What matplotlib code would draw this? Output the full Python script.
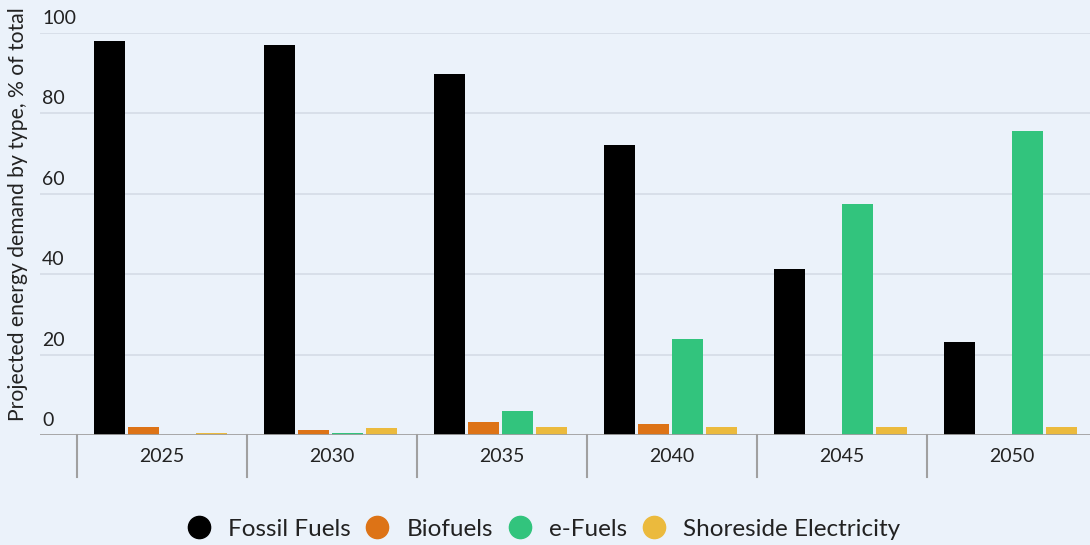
import matplotlib
matplotlib.use("Agg")
import matplotlib.pyplot as plt
from matplotlib.lines import Line2D
import matplotlib.transforms as mtransforms
import numpy as np

years = ["2025", "2030", "2035", "2040", "2045", "2050"]
series_names = ["Fossil Fuels", "Biofuels", "e-Fuels", "Shoreside Electricity"]
fossil = [98.0, 97.0, 89.8, 72.1, 41.3, 23.1]
biofuels = [2.0, 1.2, 3.2, 2.7, 0.0, 0.0]
efuels = [0.0, 0.5, 6.0, 23.9, 57.5, 75.6]
shoreside = [0.4, 1.8, 2.0, 2.0, 2.0, 2.0]
colors = ["#000000", "#DD7316", "#32C47D", "#EBBA3D"]
yticks = [0, 20, 40, 60, 80, 100]

bg = "#EBF2FA"
plt.rcParams['font.family'] = ['Lato', 'DejaVu Sans']

W, H = 1090, 545
fig = plt.figure(figsize=(W / 100, H / 100), dpi=100, facecolor=bg)
x0, x1 = 40, 1090
ybot, ytop = 435, 33
ax = fig.add_axes([x0 / W, (H - ybot) / H, (x1 - x0) / W, (ybot - ytop) / H])
ax.set_facecolor(bg)

unit = 170.0
left = -0.5 - (77 - x0) / unit
right = left + (x1 - x0) / unit
ax.set_xlim(left, right)
ax.set_ylim(0, 100)

x = np.arange(len(years))
data = [fossil, biofuels, efuels, shoreside]
step = 0.2
bw = 31 / unit
for i, (vals, c) in enumerate(zip(data, colors)):
    ax.bar(x + (i - 1.5) * step - 1.5 / unit, vals, width=bw, color=c, zorder=3, linewidth=0)

for s in ax.spines.values():
    s.set_visible(False)
ax.set_xticks([])
ax.set_yticks([])

for v in yticks:
    if v > 0:
        ax.axhline(v, color="#D5DCE6", lw=1.2, zorder=1)
    ax.text(left + 2 / unit, v + 1.5, str(v), ha="left", va="bottom",
            fontsize=14, color="#222222")
ax.axhline(0, color="#A0A0A0", lw=2, zorder=4)

trans = mtransforms.blended_transform_factory(ax.transData, ax.transAxes)
sep_bottom = -(477 - 435) / (ybot - ytop)
for k in range(len(years) + 1):
    ax.plot([k - 0.5, k - 0.5], [0, sep_bottom], color="#A0A0A0", lw=1.5,
            transform=trans, clip_on=False)
for k, yr in enumerate(years):
    ax.text(k, -(457 - 435) / (ybot - ytop), yr, transform=trans,
            ha="center", va="center", fontsize=14, color="#222222")

fig.text(18 / W, 1 - 214 / H, "Projected energy demand by type, % of total",
         rotation=90, ha="center", va="center", fontsize=15.2, color="#222222")

handles = [Line2D([0], [0], marker="o", ls="", markersize=16,
                  markerfacecolor=c, markeredgecolor=c) for c in colors]
fig.legend(handles, series_names, loc="center", bbox_to_anchor=(542 / W, 1 - 529 / H),
           ncol=4, frameon=False, fontsize=17.5, handletextpad=0.6, columnspacing=0.5,
           handlelength=1.2, labelcolor="#222222")

fig.savefig("out.png", dpi=100, facecolor=bg)
